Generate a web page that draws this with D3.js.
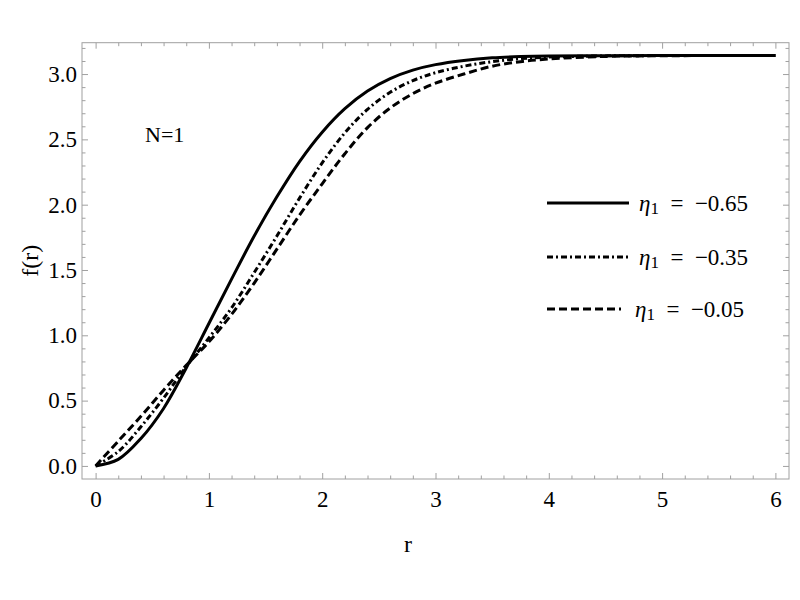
<!DOCTYPE html>
<html>
<head>
<meta charset="utf-8">
<script src="https://cdn.jsdelivr.net/npm/d3@7"></script>
<style>
  body { margin: 0; background: #fff; }
  svg text { font-family: "Liberation Serif", "Times New Roman", serif; fill: #000; }
  .frame path, .frame line { stroke: #a0a0a0; }
</style>
</head>
<body>
<svg id="chart" width="800" height="600"></svg>
<script>
// r grid and f(r) profiles
const rValues = [0, 0.2, 0.4, 0.6, 0.8, 1.0, 1.2, 1.4, 1.6, 1.8, 2.0, 2.2, 2.4, 2.6, 2.8, 3.0, 3.25, 3.5, 3.75, 4.0, 4.5, 5.0, 5.5, 6.0];
const fEta065 = [0, 0.05, 0.21, 0.44, 0.75, 1.09, 1.43, 1.76, 2.06, 2.33, 2.555, 2.735, 2.87, 2.965, 3.03, 3.072, 3.104, 3.124, 3.134, 3.139, 3.141, 3.1416, 3.1416, 3.1416];
const fEta035 = [0, 0.11, 0.30, 0.52, 0.76, 0.98, 1.21, 1.48, 1.76, 2.05, 2.32, 2.55, 2.73, 2.86, 2.95, 3.01, 3.06, 3.095, 3.118, 3.13, 3.139, 3.1413, 3.1416, 3.1416];
const fEta005 = [0, 0.19, 0.38, 0.58, 0.77, 0.95, 1.16, 1.40, 1.66, 1.92, 2.16, 2.39, 2.59, 2.74, 2.85, 2.93, 3.00, 3.06, 3.095, 3.115, 3.135, 3.14, 3.1415, 3.1416];

const seriesLabels = ["\u22120.65", "\u22120.35", "\u22120.05"];
const seriesDash = [null, "6,3,2,3", "8,4"];
const seriesValues = [fEta065, fEta035, fEta005];

const xMajor = [0, 1, 2, 3, 4, 5, 6];
const yMajor = [0, 0.5, 1.0, 1.5, 2.0, 2.5, 3.0];

const svg = d3.select("#chart");
const x = d3.scaleLinear().domain([-0.12, 6.12]).range([82, 789]);
const y = d3.scaleLinear().domain([-0.1, 3.24]).range([479, 42.7]);

const xMinor = d3.range(0, 6.01, 0.2).map(v => +v.toFixed(2)).filter(v => !xMajor.includes(v));
const yMinor = d3.range(0, 3.21, 0.1).map(v => +v.toFixed(2)).filter(v => !yMajor.some(m => Math.abs(m - v) < 1e-6));

// frame
svg.append("rect")
    .attr("x", x.range()[0]).attr("y", y.range()[1])
    .attr("width", x.range()[1] - x.range()[0])
    .attr("height", y.range()[0] - y.range()[1])
    .attr("fill", "none").attr("stroke", "#a0a0a0").attr("stroke-width", 1);

const axisFont = 23;

function addAxis(axis, tx, ty, labels) {
    const g = svg.append("g").attr("class", "frame")
        .attr("transform", `translate(${tx},${ty})`)
        .call(axis);
    g.select(".domain").remove();
    g.selectAll("text").style("font-size", axisFont + "px");
    if (!labels) g.selectAll("text").remove();
    return g;
}

// bottom
addAxis(d3.axisBottom(x).tickValues(xMajor).tickSize(-6).tickPadding(12).tickFormat(d3.format("d")), 0, y.range()[0], true);
addAxis(d3.axisBottom(x).tickValues(xMinor).tickSize(-3.5), 0, y.range()[0], false);
// top
addAxis(d3.axisTop(x).tickValues(xMajor).tickSize(-6), 0, y.range()[1], false);
addAxis(d3.axisTop(x).tickValues(xMinor).tickSize(-3.5), 0, y.range()[1], false);
// left
addAxis(d3.axisLeft(y).tickValues(yMajor).tickSize(-6).tickPadding(5).tickFormat(d3.format(".1f")), x.range()[0], 0, true);
addAxis(d3.axisLeft(y).tickValues(yMinor).tickSize(-3.5), x.range()[0], 0, false);
// right
addAxis(d3.axisRight(y).tickValues(yMajor).tickSize(-6), x.range()[1], 0, false);
addAxis(d3.axisRight(y).tickValues(yMinor).tickSize(-3.5), x.range()[1], 0, false);

// curves
const line = d3.line()
    .x((d, i) => x(rValues[i]))
    .y(d => y(d))
    .curve(d3.curveCatmullRom.alpha(0.5));

svg.append("g")
    .selectAll("path")
    .data(seriesValues)
    .join("path")
    .attr("d", line)
    .attr("fill", "none")
    .attr("stroke", "#000")
    .attr("stroke-width", 3)
    .attr("stroke-dasharray", (d, i) => seriesDash[i]);

// axis titles
svg.append("text")
    .attr("x", 408)
    .attr("y", 552)
    .attr("text-anchor", "middle")
    .style("font-size", "24px")
    .text("r");

svg.append("text")
    .attr("transform", `translate(38,${(y.range()[0] + y.range()[1]) / 2}) rotate(-90)`)
    .attr("text-anchor", "middle")
    .style("font-size", "24px")
    .text("f(r)");

svg.append("text")
    .attr("x", 145).attr("y", 142)
    .style("font-size", "22px")
    .text("N=1");

// legend
const legendY = [203, 257, 309];
const legend = svg.append("g")
    .selectAll("g")
    .data(seriesLabels)
    .join("g")
    .attr("transform", (d, i) => `translate(547,${legendY[i]})`);

legend.append("line")
    .attr("x1", 0).attr("x2", (d, i) => i === 2 ? 74 : 82)
    .attr("y1", 0).attr("y2", 0)
    .attr("stroke", "#000").attr("stroke-width", 3)
    .attr("stroke-dasharray", (d, i) => seriesDash[i]);

const lt = legend.append("text")
    .attr("x", (d, i) => i === 2 ? 88 : 92)
    .attr("y", 8)
    .style("font-size", "23px");
lt.append("tspan").style("font-style", "italic").text("\u03b7");
lt.append("tspan").attr("dy", 3).style("font-size", "17px").text("1");
lt.append("tspan").attr("dy", -3).text(d => "\u2002=\u2002" + d);
</script>
</body>
</html>
